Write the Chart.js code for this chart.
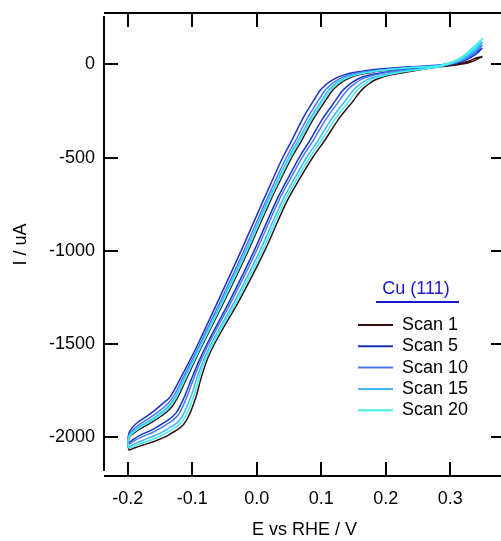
<!DOCTYPE html>
<html><head><meta charset="utf-8">
<script src="https://cdn.jsdelivr.net/npm/chart.js@4.4.1/dist/chart.umd.min.js"></script>
<style>html,body{margin:0;padding:0;overflow:hidden;background:#fff}canvas{display:block}</style>
</head><body>
<canvas id="c" width="510" height="541"></canvas>
<script>
const xTicks = [-0.2, -0.1, 0, 0.1, 0.2, 0.3];
const yTicks = [0, -500, -1000, -1500, -2000];
const legendTitle = 'Cu (111)';
const scanNames = ['Scan 1', 'Scan 5', 'Scan 10', 'Scan 15', 'Scan 20'];
const scanColors = ['#3d0c0c', '#1533c9', '#4a7af2', '#3fb6f5', '#3ff0f0'];

// potential (V) and current (uA) read along each loop: anodic vertex -> cathodic vertex -> back
const scan1E = [0.35,0.34,0.3307,0.3183,0.3028,0.2842,0.2377,0.2206,0.2067,0.1943,0.1834,0.1749,0.1671,0.1594,0.1508,0.126,0.1059,0.0873,0.0656,0.0478,0.0129,-0.0267,-0.0647,-0.0771,-0.0871,-0.0941,-0.1096,-0.1344,-0.1546,-0.1763,-0.1887,-0.198,
  -0.2,
  -0.198,-0.1919,-0.1828,-0.1655,-0.1507,-0.1324,-0.1223,-0.1099,-0.0955,-0.0826,-0.0495,-0.0127,0.0217,0.0368,0.0548,0.0701,0.0869,0.1074,0.1171,0.1243,0.1331,0.1443,0.1596,0.1795,0.2054,0.2377,0.2842,0.3028,0.3183,0.3307,0.34,0.35];
const scan1I = [42,24,11,1,-7,-13,-38,-48,-58,-70,-84,-103,-124,-151,-191,-299,-406,-497,-620,-728,-996,-1264,-1494,-1586,-1693,-1784,-1913,-1982,-2016,-2041,-2056,-2067,
  -2040,
  -2004,-1982,-1959,-1925,-1892,-1840,-1784,-1693,-1586,-1494,-1264,-996,-728,-620,-497,-406,-299,-191,-142,-117,-93,-72,-55,-42,-31,-21,-7,-2,7,19,34,42];

const scan5E = [0.35,0.34,0.3307,0.3183,0.3028,0.2842,0.2377,0.2108,0.1892,0.172,0.1583,0.148,0.1396,0.1322,0.1229,0.1009,0.0829,0.0664,0.0471,0.031,-0.0035,-0.0413,-0.0762,-0.0889,-0.1018,-0.1122,-0.1243,-0.1449,-0.1616,-0.1805,-0.1908,-0.198,
  -0.2,
  -0.198,-0.1933,-0.1856,-0.1701,-0.1577,-0.1422,-0.1344,-0.1197,-0.1034,-0.0902,-0.0592,-0.0236,0.0105,0.0245,0.0408,0.0547,0.0702,0.0888,0.0989,0.1059,0.1152,0.1276,0.1447,0.1679,0.1989,0.2377,0.2842,0.3028,0.3183,0.3307,0.34,0.35];
const scan5I = [87,55,35,15,1,-9,-27,-37,-48,-60,-76,-97,-120,-145,-191,-299,-406,-497,-620,-728,-996,-1264,-1494,-1586,-1693,-1784,-1866,-1924,-1958,-1988,-2009,-2027,
  -2005,
  -1977,-1950,-1923,-1886,-1854,-1808,-1784,-1693,-1586,-1494,-1264,-996,-728,-620,-497,-406,-299,-191,-138,-114,-89,-66,-48,-35,-23,-13,-4,6,21,43,66,87];

const scan10E = [0.35,0.34,0.3307,0.3183,0.3028,0.2842,0.2377,0.213,0.1931,0.1769,0.1639,0.154,0.1457,0.1382,0.1291,0.1065,0.088,0.071,0.0512,0.0347,0.0001,-0.0381,-0.0736,-0.0863,-0.0985,-0.1082,-0.121,-0.1426,-0.16,-0.1796,-0.1903,-0.198,
  -0.2,
  -0.198,-0.1927,-0.1845,-0.1682,-0.1549,-0.1383,-0.1296,-0.1158,-0.1002,-0.0871,-0.0553,-0.0192,0.015,0.0294,0.0464,0.0608,0.0769,0.0962,0.1062,0.1132,0.1224,0.1343,0.1507,0.1726,0.2015,0.2377,0.2842,0.3028,0.3183,0.3307,0.34,0.35];
const scan10I = [104,66,43,20,3,-10,-29,-39,-50,-63,-78,-98,-121,-147,-191,-299,-406,-497,-620,-728,-996,-1264,-1494,-1586,-1693,-1784,-1876,-1937,-1971,-2000,-2019,-2036,
  -2015,
  -1988,-1963,-1938,-1901,-1869,-1821,-1784,-1693,-1586,-1494,-1264,-996,-728,-620,-497,-406,-299,-191,-139,-115,-90,-68,-51,-38,-26,-16,-5,9,26,52,77,104];

const scan15E = [0.35,0.34,0.3307,0.3183,0.3028,0.2842,0.2377,0.2163,0.1989,0.1844,0.1722,0.163,0.1549,0.1473,0.1384,0.1148,0.0957,0.078,0.0574,0.0403,0.0056,-0.0332,-0.0698,-0.0824,-0.0936,-0.1022,-0.1161,-0.1391,-0.1577,-0.1782,-0.1896,-0.198,
  -0.2,
  -0.198,-0.1924,-0.1837,-0.167,-0.153,-0.1357,-0.1263,-0.1132,-0.0981,-0.0851,-0.0527,-0.0163,0.018,0.0327,0.0501,0.0649,0.0814,0.1012,0.111,0.1181,0.1271,0.1388,0.1546,0.1757,0.2032,0.2377,0.2842,0.3028,0.3183,0.3307,0.34,0.35];
const scan15I = [120,77,54,25,5,-12,-33,-43,-54,-66,-81,-100,-122,-149,-191,-299,-406,-497,-620,-728,-996,-1264,-1494,-1586,-1693,-1784,-1892,-1957,-1990,-2018,-2035,-2049,
  -2025,
  -1995,-1971,-1947,-1912,-1879,-1829,-1784,-1693,-1586,-1494,-1264,-996,-728,-620,-497,-406,-299,-191,-141,-116,-91,-70,-53,-40,-28,-18,-6,11,32,62,87,120];

const scan20E = [0.35,0.34,0.3307,0.3183,0.3028,0.2842,0.2377,0.2184,0.2028,0.1893,0.1778,0.169,0.161,0.1534,0.1446,0.1204,0.1008,0.0827,0.0615,0.0441,0.0093,-0.03,-0.0672,-0.0797,-0.0904,-0.0981,-0.1129,-0.1367,-0.1561,-0.1772,-0.1892,-0.198,
  -0.2,
  -0.198,-0.1922,-0.1833,-0.1662,-0.1519,-0.1341,-0.1243,-0.1116,-0.0968,-0.0838,-0.0511,-0.0145,0.0198,0.0348,0.0524,0.0675,0.0842,0.1043,0.114,0.1212,0.1301,0.1416,0.1571,0.1776,0.2043,0.2377,0.2842,0.3028,0.3183,0.3307,0.34,0.35];
const scan20I = [138,93,67,33,8,-12,-35,-45,-56,-68,-82,-102,-123,-150,-191,-299,-406,-497,-620,-728,-996,-1264,-1494,-1586,-1693,-1784,-1902,-1969,-2003,-2030,-2046,-2058,
  -2032,
  -2000,-1977,-1953,-1918,-1886,-1834,-1784,-1693,-1586,-1494,-1264,-996,-728,-620,-497,-406,-299,-191,-141,-116,-92,-71,-54,-41,-29,-19,-6,13,40,76,104,138];

const scanE = [scan1E, scan5E, scan10E, scan15E, scan20E];
const scanI = [scan1I, scan5I, scan10I, scan15I, scan20I];

const FONT = '"Liberation Sans", Arial, Helvetica, sans-serif';
Chart.defaults.font.family = FONT;
Chart.defaults.font.size = 18;
Chart.defaults.color = '#000';

const datasets = scanNames.map((name, k) => ({
  label: name,
  data: scanE[k].map((e, i) => ({x: e, y: scanI[k][i]})),
  showLine: true,
  borderColor: scanColors[k],
  backgroundColor: scanColors[k],
  borderWidth: 1.5,
  pointRadius: 0,
  cubicInterpolationMode: 'monotone',
  fill: false,
  order: scanNames.length - k
}));

const framePlugin = {
  id: 'frame',
  afterDraw(chart) {
    const {ctx, chartArea: a, scales: {x, y}} = chart;
    ctx.save();
    ctx.strokeStyle = '#000';
    ctx.lineWidth = 2;
    ctx.lineCap = 'butt';
    ctx.beginPath();
    ctx.moveTo(a.left, a.top + 3); ctx.lineTo(a.left, a.bottom - 5);
    ctx.moveTo(a.left, a.top); ctx.lineTo(a.right, a.top);
    ctx.moveTo(a.left, a.bottom); ctx.lineTo(a.right, a.bottom);
    ctx.moveTo(a.right, a.top); ctx.lineTo(a.right, a.bottom);
    xTicks.forEach(v => {
      const px = Math.round(x.getPixelForValue(v));
      ctx.moveTo(px, a.bottom); ctx.lineTo(px, a.bottom - 14);
      ctx.moveTo(px, a.top); ctx.lineTo(px, a.top + 14);
    });
    yTicks.forEach(v => {
      const py = Math.round(y.getPixelForValue(v));
      ctx.moveTo(a.left, py); ctx.lineTo(a.left + 14, py);
      ctx.moveTo(a.right, py); ctx.lineTo(a.right - 14, py);
    });
    ctx.stroke();

    // legend
    ctx.font = '18px ' + FONT;
    ctx.fillStyle = '#1a1acc';
    ctx.textAlign = 'center';
    ctx.textBaseline = 'middle';
    ctx.fillText(legendTitle, 416, 289);
    ctx.strokeStyle = '#1a1acc';
    ctx.lineWidth = 2;
    ctx.beginPath(); ctx.moveTo(376, 302); ctx.lineTo(459, 302); ctx.stroke();
    ctx.textAlign = 'left';
    scanNames.forEach((name, k) => {
      const yy = 325 + k * 21.3;
      ctx.strokeStyle = scanColors[k];
      ctx.lineWidth = 2;
      ctx.beginPath(); ctx.moveTo(358, yy); ctx.lineTo(393, yy); ctx.stroke();
      ctx.fillStyle = '#000';
      ctx.fillText(name, 402, yy);
    });
    ctx.restore();
  }
};

new Chart(document.getElementById('c'), {
  type: 'scatter',
  data: {datasets},
  options: {
    responsive: false,
    animation: false,
    devicePixelRatio: 1,
    layout: {padding: {top: 13, right: 5, left: 0, bottom: 0}},
    plugins: {legend: {display: false}, tooltip: {enabled: false}},
    scales: {
      x: {
        type: 'linear', position: 'bottom',
        min: -0.2367, max: 0.385,
        grid: {display: false, drawTicks: false},
        border: {display: false},
        ticks: {padding: 12, maxRotation: 0, autoSkip: false,
          callback: v => Number(v).toFixed(1)},
        afterBuildTicks: s => { s.ticks = xTicks.map(v => ({value: v})); },
        afterFit: s => { s.height = 65; s.paddingLeft = 0; s.paddingRight = 0; },
        title: {display: true, text: 'E vs RHE / V', padding: {top: 0, bottom: 0}}
      },
      y: {
        type: 'linear', position: 'left',
        min: -2207, max: 275,
        grid: {display: false, drawTicks: false},
        border: {display: false},
        ticks: {padding: 9, autoSkip: false, callback: v => String(v)},
        afterBuildTicks: s => { s.ticks = yTicks.map(v => ({value: v})); },
        afterFit: s => { s.width = 104; s.paddingTop = 0; s.paddingBottom = 0; },
        title: {display: true, text: 'I / uA', padding: {top: 10, bottom: 0}}
      }
    }
  },
  plugins: [framePlugin]
});
</script>
</body></html>
